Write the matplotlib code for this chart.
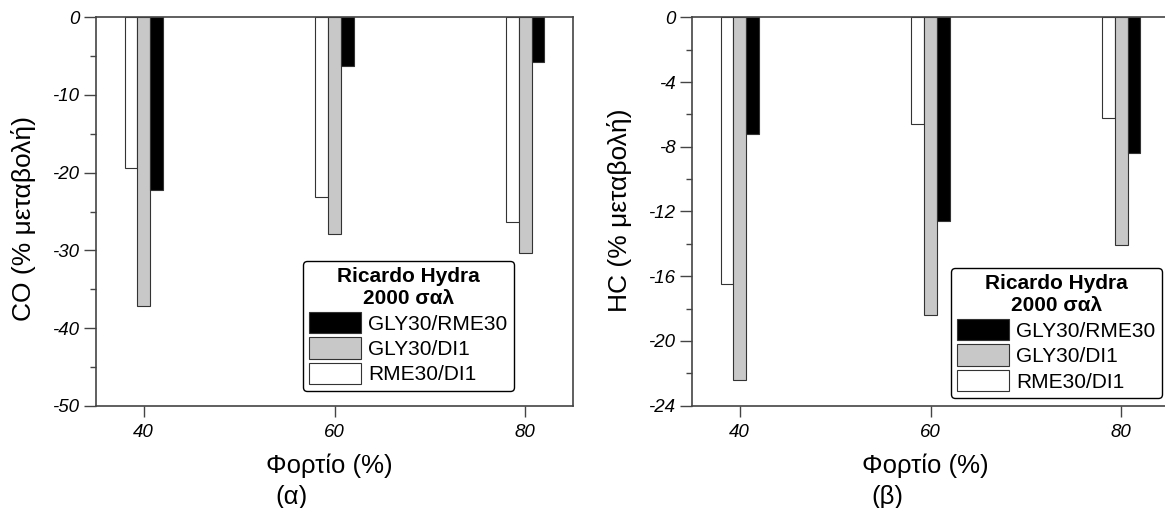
import matplotlib
matplotlib.use("Agg")
import matplotlib.pyplot as plt
from matplotlib.ticker import MultipleLocator

plt.rcParams['font.family'] = ['Liberation Sans', 'DejaVu Sans']
plt.rcParams['axes.unicode_minus'] = False

# data
loads = [40, 60, 80]
series = ["GLY30/RME30", "GLY30/DI1", "RME30/DI1"]
co_rme_di = [-19.4, -23.1, -26.3]
co_gly_di = [-37.2, -27.9, -30.4]
co_gly_rme = [-22.2, -6.3, -5.7]
hc_rme_di = [-16.5, -6.6, -6.2]
hc_gly_di = [-22.4, -18.4, -14.1]
hc_gly_rme = [-7.2, -12.6, -8.4]

colors = {"GLY30/RME30": "black", "GLY30/DI1": "#c8c8c8", "RME30/DI1": "white"}
offsets = {"RME30/DI1": -1.33, "GLY30/DI1": 0.0, "GLY30/RME30": 1.33}
bw = 1.33
spine_col = "#444444"

W, H = 1165, 508
fig = plt.figure(figsize=(W / 100, H / 100), dpi=100)


def px_axes(x0, x1, y0, y1):
    return fig.add_axes([x0 / W, 1 - y1 / H, (x1 - x0) / W, (y1 - y0) / H])


def draw_panel(ax, data, ylim, major, minor, ylabel, ylab_pos, tag, leg_anchor):
    handles = {}
    for name in ["RME30/DI1", "GLY30/DI1", "GLY30/RME30"]:
        xs = [x + offsets[name] for x in loads]
        b = ax.bar(xs, data[name], width=bw, color=colors[name],
                   edgecolor="#333333", linewidth=0.8, label=name, zorder=2)
        handles[name] = b
    ax.set_xlim(35, 85)
    ax.set_ylim(*ylim)
    ax.set_xticks(loads)
    ax.yaxis.set_major_locator(MultipleLocator(major))
    ax.yaxis.set_minor_locator(MultipleLocator(minor))
    ax.xaxis.set_minor_locator(plt.NullLocator())
    for lab in ax.get_xticklabels() + ax.get_yticklabels():
        lab.set_fontstyle("italic")
        lab.set_fontsize(13.5)
    ax.tick_params(axis="y", which="major", length=8.6, width=1, color=spine_col, pad=3.5)
    ax.tick_params(axis="y", which="minor", length=4.3, width=1, color=spine_col)
    ax.tick_params(axis="x", which="major", length=8, width=1, color=spine_col, pad=5)
    for sp in ax.spines.values():
        sp.set_color(spine_col)
        sp.set_linewidth(1.2)
    ax.set_ylabel(ylabel, fontsize=19, va="center")
    ax.yaxis.set_label_coords(*ylab_pos)
    ax.text(0.49, -0.155, "Φορτίο (%)", transform=ax.transAxes,
            ha="center", va="center", fontsize=18.5)
    ax.text(0.41, -0.236, tag, transform=ax.transAxes,
            ha="center", va="center", fontsize=18.5)
    leg = ax.legend([handles[s] for s in series], series,
                    title="Ricardo Hydra\n2000 σαλ",
                    loc="upper right", bbox_to_anchor=leg_anchor,
                    fontsize=15, title_fontproperties={"weight": "bold", "size": 15},
                    fancybox=True, framealpha=1, edgecolor="black",
                    handlelength=2.5, handleheight=1.2, labelspacing=0.18,
                    handletextpad=0.35, borderpad=0.3, borderaxespad=0,
                    alignment="center")
    leg.get_title().set_multialignment("center")
    leg.get_frame().set_linewidth(1.0)
    leg.set_zorder(5)


ax1 = px_axes(96, 573, 17.3, 405.7)
draw_panel(ax1,
           {"RME30/DI1": co_rme_di, "GLY30/DI1": co_gly_di, "GLY30/RME30": co_gly_rme},
           (-50, 0), 10, 5, "CO (% μεταβολή)", (-0.151, 0.481), "(α)", (0.876, 0.373))

ax2 = px_axes(692, 1169, 17.3, 405.7)
draw_panel(ax2,
           {"RME30/DI1": hc_rme_di, "GLY30/DI1": hc_gly_di, "GLY30/RME30": hc_gly_rme},
           (-24, 0), 4, 2, "HC (% μεταβολή)", (-0.153, 0.502), "(β)", (0.985, 0.3545))

fig.savefig("out.png", dpi=100)
